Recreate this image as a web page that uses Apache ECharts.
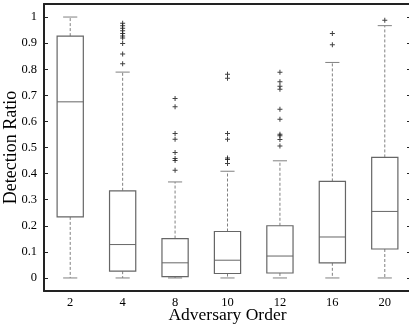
<!DOCTYPE html>
<html>
<head>
<meta charset="utf-8">
<script src="https://cdn.jsdelivr.net/npm/echarts@6/dist/echarts.min.js"></script>
<style>
  html, body { margin: 0; padding: 0; background: #fff; }
  #chart { width: 409px; height: 331px; }
</style>
</head>
<body>
<div id="chart"></div>
<script>
// adversary orders on the x axis
const categories = ["2", "4", "8", "10", "12", "16", "20"];
// box statistics per group
const lowerWhisker = [0, 0, 0, 0, 0, 0, 0];
const q1 = [0.234, 0.026, 0.005, 0.017, 0.019, 0.058, 0.111];
const median = [0.675, 0.128, 0.058, 0.068, 0.084, 0.157, 0.255];
const q3 = [0.927, 0.334, 0.151, 0.178, 0.2, 0.37, 0.462];
const upperWhisker = [1.0, 0.789, 0.368, 0.409, 0.449, 0.826, 0.967];
// outliers per group
const outliers2 = [];
const outliers4 = [0.976, 0.967, 0.957, 0.947, 0.937, 0.927, 0.92, 0.899, 0.858, 0.821];
const outliers8 = [0.688, 0.656, 0.554, 0.532, 0.481, 0.458, 0.45, 0.413];
const outliers10 = [0.781, 0.765, 0.554, 0.532, 0.46, 0.454, 0.439];
const outliers12 = [0.788, 0.752, 0.735, 0.723, 0.647, 0.608, 0.551, 0.545, 0.531, 0.506];
const outliers16 = [0.937, 0.894];
const outliers20 = [0.988];
const yTicks = [0, 0.1, 0.2, 0.3, 0.4, 0.5, 0.6, 0.7, 0.8, 0.9, 1];

const allOutliers = [outliers2, outliers4, outliers8, outliers10, outliers12, outliers16, outliers20];
let outlierPoints = [];
allOutliers.forEach((list, i) => {
  list.forEach((v) => outlierPoints.push([i, v]));
});

const boxData = categories.map((c, i) => [i, lowerWhisker[i], q1[i], median[i], q3[i], upperWhisker[i]]);

const serif = "Liberation Serif";
const boxColor = "#666";
const whiskerColor = "#808080";

function renderBox(params, api) {
  let idx = api.value(0);
  let x = api.coord([idx, 0])[0];
  let band = api.size([1, 0])[0];
  let half = band * 0.25;
  let cap = band * 0.135;
  let yMin = api.coord([idx, api.value(1)])[1];
  let yQ1 = api.coord([idx, api.value(2)])[1];
  let yMed = api.coord([idx, api.value(3)])[1];
  let yQ3 = api.coord([idx, api.value(4)])[1];
  let yMax = api.coord([idx, api.value(5)])[1];
  let dashed = { stroke: whiskerColor, lineWidth: 1, lineDash: [3, 2] };
  let solid = { stroke: boxColor, lineWidth: 1 };
  return {
    type: "group",
    children: [
      { type: "line", shape: { x1: x, y1: yQ3, x2: x, y2: yMax }, style: dashed },
      { type: "line", shape: { x1: x, y1: yQ1, x2: x, y2: yMin }, style: dashed },
      { type: "line", shape: { x1: x - cap, y1: yMax, x2: x + cap, y2: yMax }, style: { stroke: whiskerColor, lineWidth: 1 } },
      { type: "line", shape: { x1: x - cap, y1: yMin, x2: x + cap, y2: yMin }, style: { stroke: whiskerColor, lineWidth: 1 } },
      { type: "rect", shape: { x: x - half, y: yQ3, width: half * 2, height: yQ1 - yQ3 }, style: { fill: "#fff", stroke: boxColor, lineWidth: 1.2 } },
      { type: "line", shape: { x1: x - half, y1: yMed, x2: x + half, y2: yMed }, style: solid },
    ],
  };
}

let chart = echarts.init(document.getElementById("chart"));
let option = {
  backgroundColor: "#fff",
  animation: false,
  grid: { left: 44, top: 4, width: 367, bottom: 40, containLabel: false, outerBoundsMode: "none" },
  xAxis: [
    {
      type: "category",
      data: categories,
      boundaryGap: true,
      name: "Adversary Order",
      nameLocation: "middle",
      nameGap: 15,
      nameMoveOverlap: false,
      nameTextStyle: { fontFamily: serif, fontSize: 17.5, color: "#000" },
      axisLine: { onZero: false, lineStyle: { color: "#222", width: 2 } },
      axisTick: { inside: true, length: 4, alignWithLabel: true, lineStyle: { color: "#222" } },
      axisLabel: { fontFamily: serif, fontSize: 12.5, color: "#000", margin: 5 },
      splitLine: { show: false },
    },
    {
      type: "category",
      data: categories,
      boundaryGap: true,
      position: "top",
      axisLine: { onZero: false, lineStyle: { color: "#222", width: 2 } },
      axisTick: { inside: true, length: 4, alignWithLabel: true, lineStyle: { color: "#222" } },
      axisLabel: { show: false },
    },
  ],
  yAxis: [
    {
      type: "value",
      min: -0.05,
      max: 1.05,
      name: "Detection Ratio",
      nameLocation: "middle",
      nameGap: 23.5,
      nameMoveOverlap: false,
      nameTextStyle: { fontFamily: serif, fontSize: 18, color: "#000" },
      axisLine: { show: true, onZero: false, lineStyle: { color: "#222", width: 2 } },
      axisTick: { show: true, inside: true, length: 4, customValues: yTicks, lineStyle: { color: "#222" } },
      axisLabel: {
        fontFamily: serif,
        fontSize: 12.5,
        color: "#000",
        margin: 7,
        customValues: yTicks,
        formatter: (v) => String(+v.toFixed(1)),
      },
      splitLine: { show: false },
    },
    {
      type: "value",
      min: -0.05,
      max: 1.05,
      position: "right",
      axisLine: { show: false, onZero: false },
      axisTick: { show: true, inside: true, length: 4, customValues: yTicks, lineStyle: { color: "#222" } },
      axisLabel: { show: false },
      splitLine: { show: false },
    },
  ],
  series: [
    {
      type: "custom",
      renderItem: renderBox,
      data: boxData,
      encode: { x: 0, y: [1, 2, 3, 4, 5] },
      z: 2,
    },
    {
      type: "scatter",
      data: outlierPoints,
      symbol: "path://M4,0h2v4h4v2h-4v4h-2v-4h-4v-2h4z",
      symbolSize: 5,
      itemStyle: { color: "#111" },
      z: 3,
    },
  ],
};
chart.setOption(option);
</script>
</body>
</html>
